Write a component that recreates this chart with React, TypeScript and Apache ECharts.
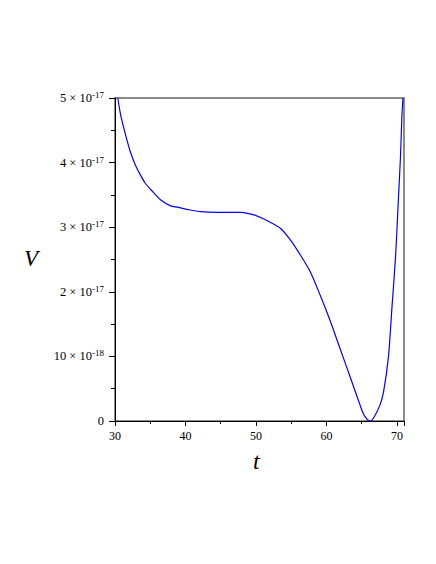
import React, { useEffect, useRef } from "react";
import * as echarts from "echarts";

// t values and V values (in units of 1e-17)
const tValues = [30.4, 30.8, 31.5, 32.2, 32.9, 33.6, 34.3, 35.1, 36.5, 37.9, 38.9, 40.5, 42.2, 44.5, 47.8, 49.7, 51.6, 53.5, 54.9, 56.3, 57.7, 59.1, 60.5, 61.9, 63.4, 64.5, 65.2, 65.8, 66.2, 66.7, 67.6, 68.1, 68.8, 69.3, 69.8, 70.2, 70.5, 70.7, 70.85];
const vValues = [5.0, 4.74, 4.43, 4.16, 3.96, 3.81, 3.68, 3.58, 3.42, 3.33, 3.31, 3.27, 3.24, 3.23, 3.23, 3.19, 3.10, 2.98, 2.80, 2.57, 2.31, 1.95, 1.56, 1.13, 0.67, 0.33, 0.12, 0.02, 0.0, 0.05, 0.25, 0.45, 1.0, 1.77, 2.54, 3.42, 4.09, 4.71, 5.0];
const yTickLabels = ["{n|0}", "{n|10 × 10}{s|-18}", "{n|2 × 10}{s|-17}", "{n|3 × 10}{s|-17}", "{n|4 × 10}{s|-17}", "{n|5 × 10}{s|-17}"];
const xTickLabels = ["30", "40", "50", "60", "70"];

const FONT = "'Liberation Serif', 'DejaVu Serif', serif";

export default function App() {
  const ref = useRef<HTMLDivElement>(null);
  useEffect(() => {
    if (!ref.current) return;
    const chart = echarts.init(ref.current, undefined, { renderer: "svg" });
    const data = tValues.map((t, i) => [t, vValues[i]]);
    chart.setOption({
      animation: false,
      backgroundColor: "#ffffff",
      grid: {
        left: 115,
        top: 98,
        right: 32,
        bottom: 143,
        show: true,
        borderColor: "#666666",
        borderWidth: 1.5,
        backgroundColor: "transparent",
      },
      xAxis: {
        type: "value",
        min: 30,
        max: 71,
        interval: 10,
        splitLine: { show: false },
        axisLine: { show: true, onZero: false, lineStyle: { color: "#000", width: 1 } },
        axisTick: { show: true, inside: false, length: 5, lineStyle: { color: "#000" } },
        minorTick: { show: true, splitNumber: 2, length: 3, lineStyle: { color: "#000" } },
        axisLabel: {
          margin: 9,
          fontFamily: FONT,
          fontSize: 12,
          color: "#000",
          showMaxLabel: false,
          formatter: (v: number) => {
            const idx = Math.round((v - 30) / 10);
            return xTickLabels[idx] ?? "";
          },
        },
      },
      yAxis: {
        type: "value",
        min: 0,
        max: 5,
        interval: 1,
        splitLine: { show: false },
        axisLine: { show: true, onZero: false, lineStyle: { color: "#000", width: 1 } },
        axisTick: { show: true, inside: false, length: 6, lineStyle: { color: "#000" } },
        minorTick: { show: true, splitNumber: 2, length: 4, lineStyle: { color: "#000" } },
        axisLabel: {
          margin: 11,
          fontFamily: FONT,
          fontSize: 12.5,
          color: "#000000",
          formatter: (v: number) => yTickLabels[Math.round(v)] ?? "",
          rich: {
            n: { fontFamily: FONT, fontSize: 12.5, color: "#000000" },
            s: { fontFamily: FONT, fontSize: 9, color: "#000000", verticalAlign: "top", padding: [0, 0, 6, 0] },
          },
        },
      },
      graphic: [
        {
          type: "text",
          left: 24,
          top: 247,
          style: { text: "V", font: `italic 23px ${FONT}`, fill: "#000" },
        },
        {
          type: "text",
          left: 253,
          top: 449,
          style: { text: "t", font: `italic 24px ${FONT}`, fill: "#000" },
        },
      ],
      series: [
        {
          type: "line",
          data,
          showSymbol: false,
          smooth: 0.25,
          clip: true,
          lineStyle: { color: "#0000ff", width: 1.2 },
        },
      ],
    });
    return () => chart.dispose();
  }, []);
  return (
    <div
      ref={ref}
      style={{ position: "fixed", left: 0, top: 0, width: 436, height: 564, background: "#fff" }}
    />
  );
}
